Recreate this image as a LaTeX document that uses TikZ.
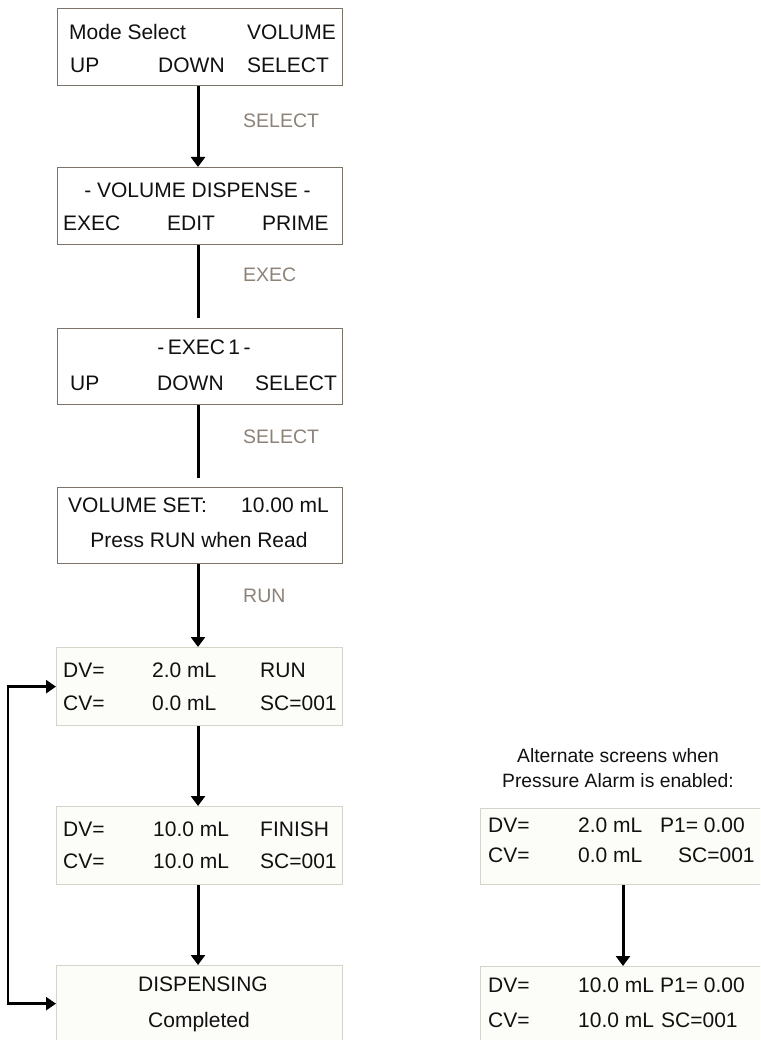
\documentclass[tikz,border=0pt]{standalone}
\usepackage{fontspec}
\setmainfont{Liberation Sans}
\usetikzlibrary{arrows.meta}
\definecolor{darkframe}{RGB}{125,116,104}
\definecolor{lightframe}{RGB}{212,212,202}
\definecolor{lightfill}{RGB}{252,252,248}
\definecolor{labelgray}{RGB}{140,130,120}
\definecolor{inkblack}{RGB}{17,17,17}
\begin{document}
\begin{tikzpicture}[x=1pt,y=-1pt,
  screen/.style={draw=darkframe,line width=1.3pt,fill=white,inner sep=0pt,anchor=north west,minimum width=285pt,minimum height=77pt},
  lscreen/.style={draw=lightframe,line width=1.3pt,fill=lightfill,inner sep=0pt,anchor=north west,minimum width=286pt,minimum height=78pt},
  txt/.style={font=\fontsize{21}{21}\selectfont,text=inkblack,inner sep=0pt,anchor=base west},
  ctxt/.style={font=\fontsize{21}{21}\selectfont,text=inkblack,inner sep=0pt,anchor=base},
  keylabel/.style={font=\fontsize{19.5}{19.5}\selectfont,text=labelgray,inner sep=0pt,anchor=base west},
  captxt/.style={font=\fontsize{19.3}{19.3}\selectfont,text=inkblack,inner sep=0pt,anchor=base},
  flow/.style={line width=3pt,-{Triangle[width=14pt,length=10pt]}},
  plainflow/.style={line width=3pt},
  loopflow/.style={line width=2.5pt,{Triangle[width=13pt,length=10pt]}-{Triangle[width=13pt,length=10pt]}}]
\useasboundingbox (0,0) rectangle (760,1040);
\clip (0,0) rectangle (760,1040);

% screens
\node[screen] (b1) at (57,8) {};
\node[screen] (b2) at (57,167) {};
\node[screen,minimum height=76pt] (b3) at (57,328) {};
\node[screen,minimum height=76pt] (b4) at (57,487) {};
\node[lscreen] (b5) at (56,647) {};
\node[lscreen] (b6) at (56,806) {};
\node[lscreen,minimum height=76pt] (b7) at (56,965) {};
\node[lscreen,minimum width=320pt,minimum height=76pt] (r1) at (480,808) {};
\node[lscreen,minimum width=320pt,minimum height=80pt] (r2) at (480,966) {};

% screen texts
\node[txt] (t1a) at (69,39.5) {Mode Select};
\node[txt] (t1b) at (247,39.5) {VOLUME};
\node[txt] (t1c) at (70,72.5) {UP};
\node[txt] (t1d) at (158,72.5) {DOWN};
\node[txt] (t1e) at (247,72.5) {SELECT};

\node[ctxt] (t2a) at (197.5,198) {- VOLUME DISPENSE -};
\node[txt] (t2b) at (63,231) {EXEC};
\node[txt] (t2c) at (167,231) {EDIT};
\node[txt] (t2d) at (262,231) {PRIME};

\node[ctxt] (t3a) at (204,354) {-\,EXEC\,1\,-};
\node[txt] (t3b) at (70,390) {UP};
\node[txt] (t3c) at (157,390) {DOWN};
\node[txt] (t3d) at (255,390) {SELECT};

\node[txt] (t4a) at (68,512) {VOLUME SET:};
\node[txt] (t4b) at (241,512) {10.00 mL};
\node[ctxt] (t4c) at (199,547) {Press RUN when Read};

\node[txt] (t5a) at (63,677) {DV=};
\node[txt] (t5b) at (152,677) {2.0 mL};
\node[txt] (t5c) at (260,677) {RUN};
\node[txt] (t5d) at (63,710) {CV=};
\node[txt] (t5e) at (152,710) {0.0 mL};
\node[txt] (t5f) at (260,710) {SC=001};

\node[txt] (t6a) at (63,836) {DV=};
\node[txt] (t6b) at (153,836) {10.0 mL};
\node[txt] (t6c) at (260,836) {FINISH};
\node[txt] (t6d) at (63,868) {CV=};
\node[txt] (t6e) at (153,868) {10.0 mL};
\node[txt] (t6f) at (260,868) {SC=001};

\node[ctxt] (t7a) at (203,991) {DISPENSING};
\node[ctxt] (t7b) at (199,1027) {Completed};

\node[captxt] (cap1) at (618,762) {Alternate screens when};
\node[captxt] (cap2) at (618,787) {Pressure Alarm is enabled:};

\node[txt] (r1a) at (488,832) {DV=};
\node[txt] (r1b) at (578,832) {2.0 mL};
\node[txt] (r1c) at (660,832) {P1= 0.00};
\node[txt] (r1d) at (488,862) {CV=};
\node[txt] (r1e) at (578,862) {0.0 mL};
\node[txt] (r1f) at (678,862) {SC=001};

\node[txt] (r2a) at (488,992) {DV=};
\node[txt] (r2b) at (578,992) {10.0 mL};
\node[txt] (r2c) at (660,992) {P1= 0.00};
\node[txt] (r2d) at (488,1027) {CV=};
\node[txt] (r2e) at (578,1027) {10.0 mL};
\node[txt] (r2f) at (661,1027) {SC=001};

% key labels
\node[keylabel] (k1) at (243,128) {SELECT};
\node[keylabel] (k2) at (243,282) {EXEC};
\node[keylabel] (k3) at (243,443) {SELECT};
\node[keylabel] (k4) at (243,602) {RUN};

% connectors
\coordinate (cx) at (198,0);
\coordinate (rx) at (623,0);
\coordinate (e2) at (198,318);
\coordinate (e3) at (198,478);
\coordinate (loopx) at (8,850);
\draw[flow] (b1.south -| cx) -- (b2.north -| cx);
\draw[plainflow] (b2.south -| cx) -- (e2);
\draw[plainflow] (b3.south -| cx) -- (e3);
\draw[flow] (b4.south -| cx) -- (b5.north -| cx);
\draw[flow] (b5.south -| cx) -- (b6.north -| cx);
\draw[flow] (b6.south -| cx) -- (b7.north -| cx);
\draw[flow] (r1.south -| rx) -- (r2.north -| rx);
\draw[loopflow] (b5.west) -| (loopx) |- (b7.west);
\end{tikzpicture}
\end{document}
